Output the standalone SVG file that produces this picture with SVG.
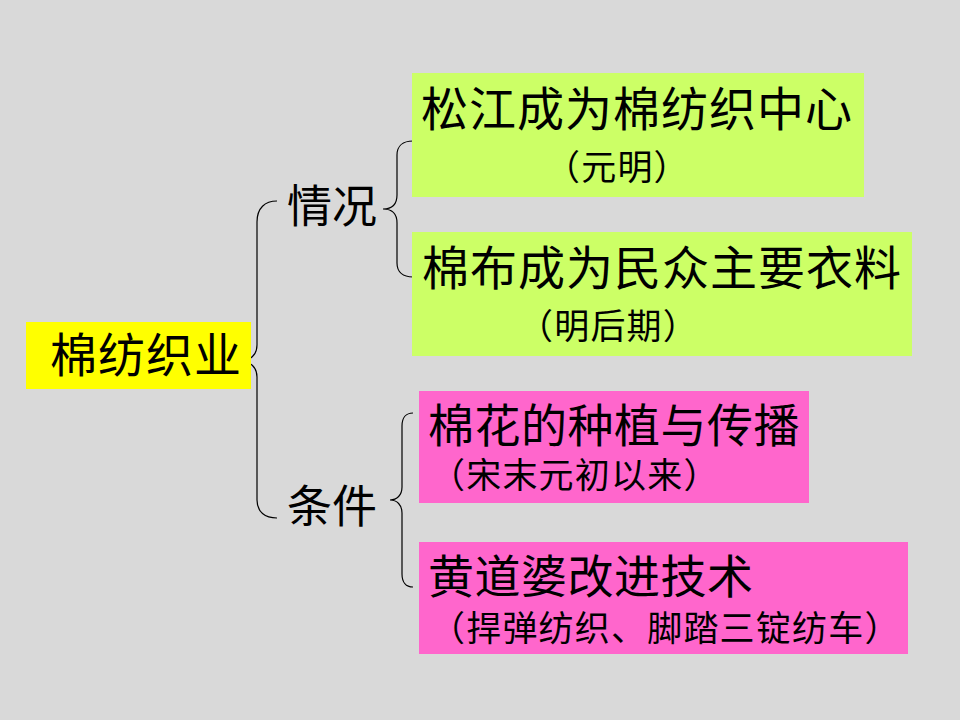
<svg xmlns="http://www.w3.org/2000/svg" width="960" height="720" viewBox="0 0 960 720">
<style>
text{font-family:"Noto Sans CJK SC","Noto Sans CJK JP",sans-serif;fill:#000}
.t{font-size:47px;letter-spacing:1px}
.s{font-size:35px;letter-spacing:1.2px}
.b{fill:none;stroke:#000;stroke-width:1.2}
</style>
<rect x="0" y="0" width="960" height="720" fill="#D9D9D9"/>
<g id="connectors">
<path class="b" d="M277,201 C265,201 257,208 257,222 L257,345 C257,355 250,361 240,361 C250,361 257,367 257,377 L257,500 C257,512 265,518 277,518"/>
<path class="b" d="M413,141 C403,141 397,146 397,155 L397,195 C397,204 392,209 383,209 C392,209 397,214 397,223 L397,263 C397,272 403,277 413,277"/>
<path class="b" d="M413,413 C406,413 402,418 402,426 L402,487 C402,495 397,500 390,500 C397,500 402,505 402,513 L402,574 C402,582 406,587 413,587"/>
</g>
<g id="root">
<rect x="26" y="322" width="225" height="67" fill="#FFFF00"/>
<text class="t" x="50" y="372">棉纺织业</text>
</g>
<g id="qingkuang">
<text x="287" y="223" style="font-size:45px">情况</text>
</g>
<g id="tiaojian">
<text x="287" y="523" style="font-size:45px">条件</text>
</g>
<g id="songjiang">
<rect x="412" y="73" width="452" height="124" fill="#CCFF66"/>
<text class="t" x="421" y="126">松江成为棉纺织中心</text>
<text class="s" x="545" y="180">（元明）</text>
</g>
<g id="mianbu">
<rect x="412" y="232" width="500" height="124" fill="#CCFF66"/>
<text class="t" x="422" y="285">棉布成为民众主要衣料</text>
<text class="s" x="518" y="339">（明后期）</text>
</g>
<g id="mianhua">
<rect x="419" y="391" width="390" height="112" fill="#FF66CC"/>
<text class="t" x="428" y="442" style="font-size:46px;letter-spacing:0.5px">棉花的种植与传播</text>
<text class="s" x="430" y="488">（宋末元初以来）</text>
</g>
<g id="huangdaopo">
<rect x="419" y="542" width="489" height="112" fill="#FF66CC"/>
<text class="t" x="428" y="593" style="font-size:46px;letter-spacing:0.5px">黄道婆改进技术</text>
<text class="s" x="430" y="641">（捍弹纺织、脚踏三锭纺车）</text>
</g>
</svg>
